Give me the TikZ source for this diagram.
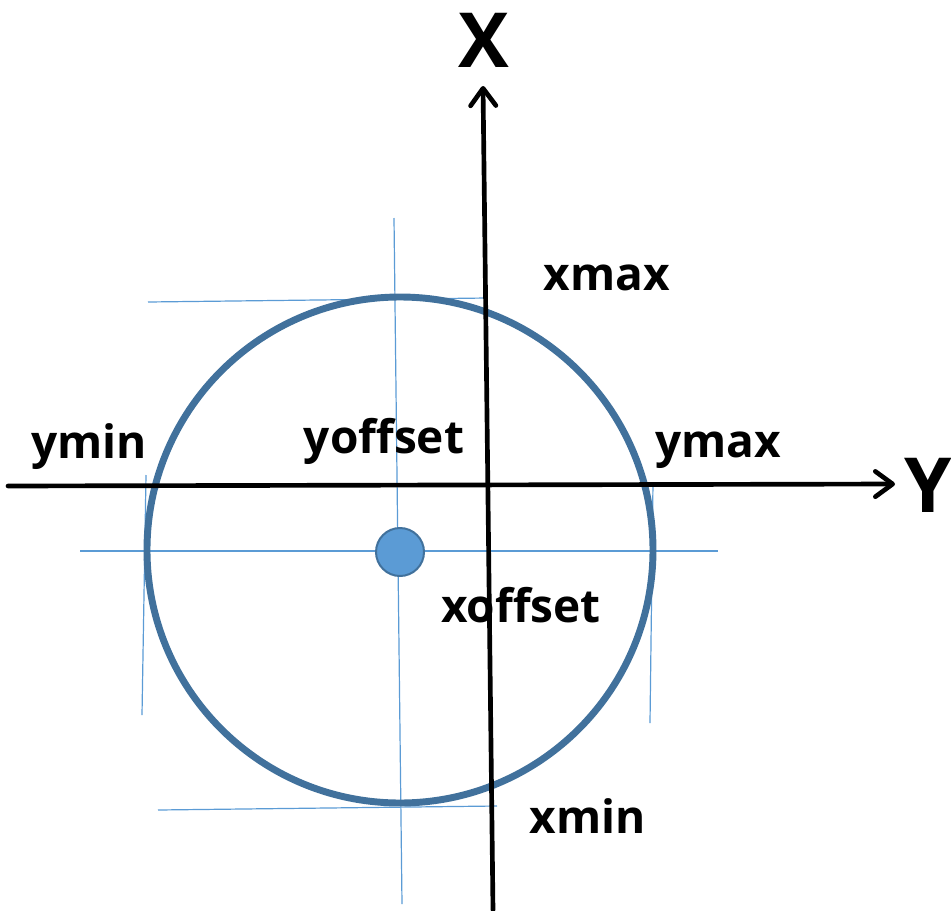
\documentclass[tikz,border=0pt]{standalone}
\usepackage{fontspec}
\setmainfont{Open Sans}
\usetikzlibrary{arrows.meta}
\definecolor{ringBlue}{HTML}{41719C}
\definecolor{guideBlue}{HTML}{5B9BD5}
\tikzset{
  every node/.style={font=\bfseries\fontsize{34.5}{40}\selectfont, inner sep=0pt},
  axisline/.style={line width=3.5pt, line cap=round,
                   -{Straight Barb[length=13pt, width=19pt, line cap=round, line join=round]}},
  guide/.style={draw=guideBlue, line width=0.9pt},
  ring/.style={draw=ringBlue, line width=5.2pt, circle, minimum size=379.5pt},
  centredot/.style={draw=ringBlue, fill=guideBlue, line width=1.5pt, circle, minimum size=36pt},
  lbl/.style={anchor=base},
  axlbl/.style={font=\bfseries\fontsize{57}{62}\selectfont},
}
\begin{document}
\begin{tikzpicture}[x=0.75pt, y=-0.75pt]
  \useasboundingbox (0,0) rectangle (951,911);
  % guide lines
  \coordinate (vTop) at (394,218);
  \coordinate (vBot) at (402,904);
  \coordinate (hLeft) at (80,551);
  \coordinate (hRight) at (718,551);
  \coordinate (tLeft) at (148,302);
  \coordinate (tRight) at (487,298);
  \coordinate (bLeft) at (158,810);
  \coordinate (bRight) at (497,806);
  \coordinate (lTop) at (146,475);
  \coordinate (lBot) at (142,715);
  \coordinate (rTop) at (653,483);
  \coordinate (rBot) at (650,723);
  \draw[guide] (vTop) -- (vBot);
  \draw[guide] (hLeft) -- (hRight);
  \draw[guide] (tLeft) -- (tRight);
  \draw[guide] (bLeft) -- (bRight);
  \draw[guide] (lTop) -- (lBot);
  \draw[guide] (rTop) -- (rBot);
  % circle and its centre
  \node[ring] (ring) at (400,550) {};
  \node[centredot] (centre) at (400,552) {};
  % axes
  \coordinate (xStart) at (493,910);
  \coordinate (xEnd) at (483,86);
  \coordinate (yStart) at (8,486);
  \coordinate (yEnd) at (895,484);
  \draw[axisline] (xStart) -- (xEnd);
  \draw[axisline] (yStart) -- (yEnd);
  \node[axlbl] (xlab) at (484,40) {X};
  \node[axlbl] (ylab) at (928,485) {Y};
  % labels
  \node[lbl] (xmax) at (607,290) {xmax};
  \node[lbl] (ymin) at (89,458) {ymin};
  \node[lbl] (yoffset) at (384,453) {yoffset};
  \node[lbl] (ymax) at (718,457) {ymax};
  \node[lbl] (xoffset) at (521,622) {xoffset};
  \node[lbl] (xmin) at (588,833) {xmin};
\end{tikzpicture}
\end{document}
